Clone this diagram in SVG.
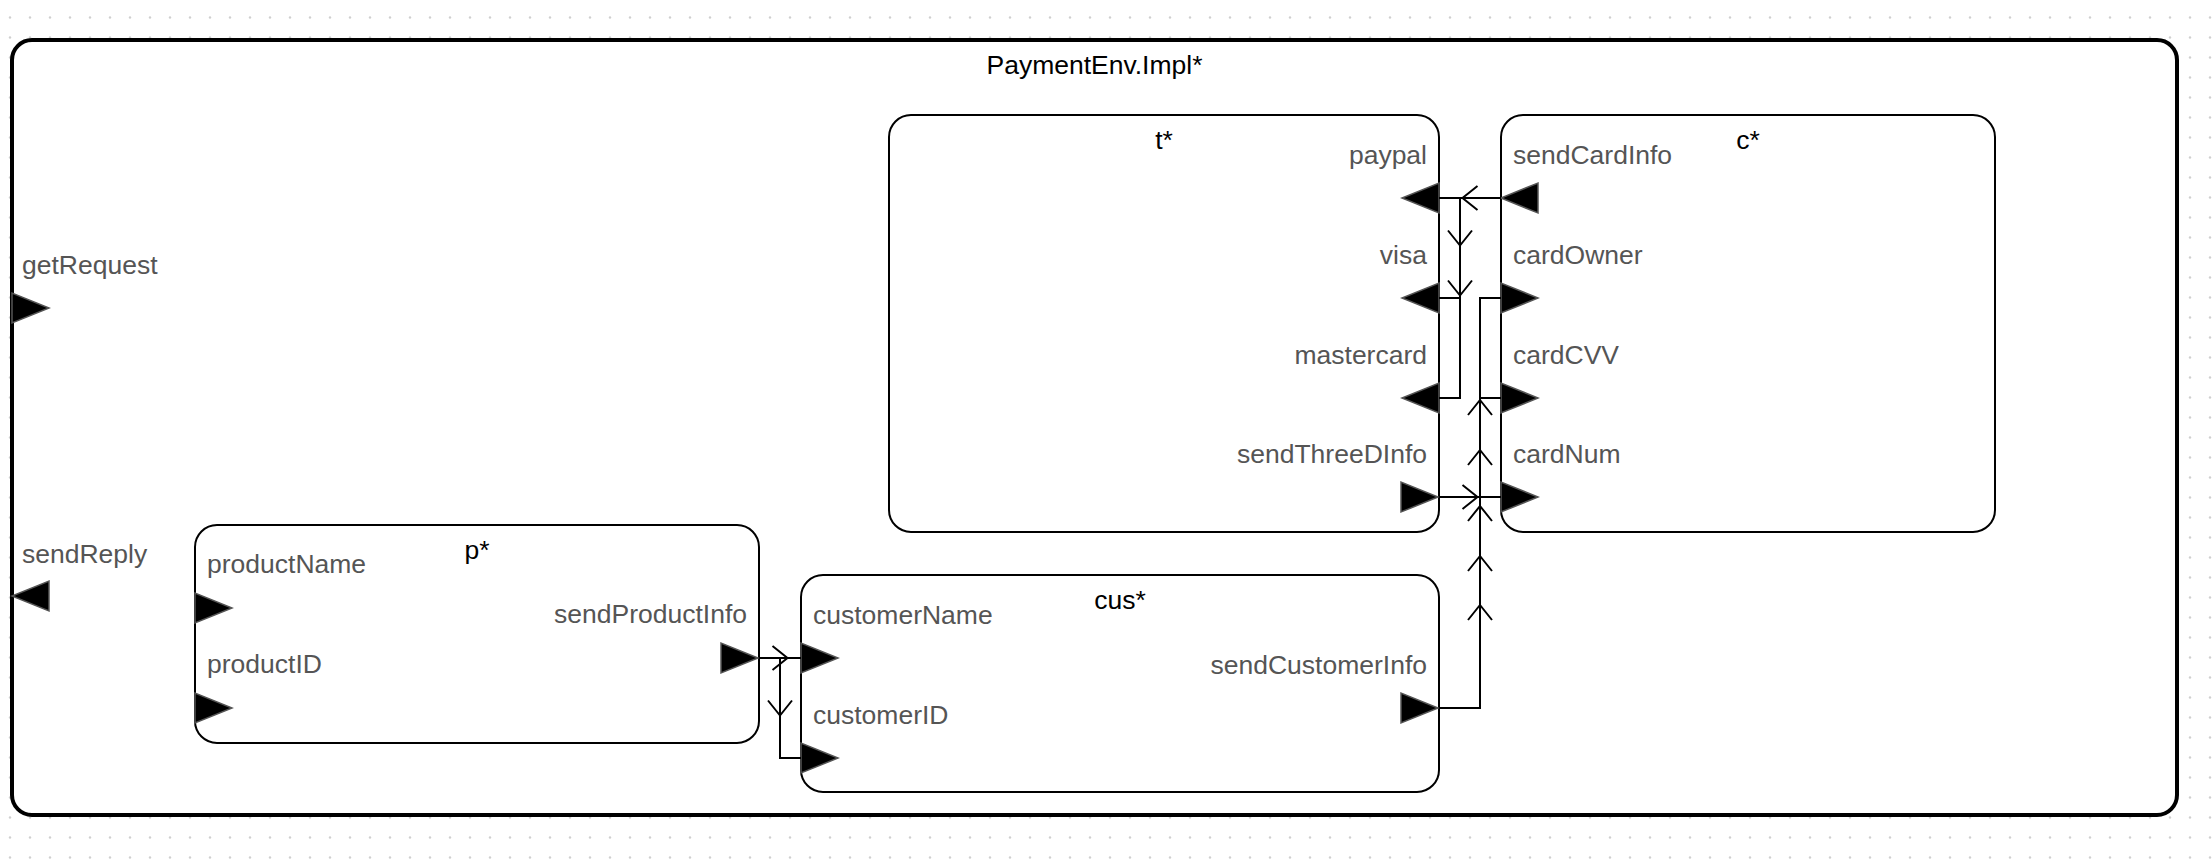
<svg xmlns="http://www.w3.org/2000/svg" width="2212" height="866" viewBox="0 0 2212 866">
<defs>
<pattern id="grid" x="0" y="0" width="20" height="20" patternUnits="userSpaceOnUse">
<circle cx="10" cy="17.5" r="1.2" fill="#cfcfcf"/>
</pattern>
</defs>
<style>
.outer{fill:#fff;stroke:#000;stroke-width:4}
.box{fill:#fff;stroke:#000;stroke-width:2}
.title{font-family:"Liberation Sans",Arial,sans-serif;font-size:26.5px;fill:#000}
.lbl{font-family:"Liberation Sans",Arial,sans-serif;font-size:26.5px;fill:#555}
.end{text-anchor:end}
.mid{text-anchor:middle}
.port{fill:#000;stroke:#555;stroke-width:1.5;stroke-linejoin:miter}
.wire{fill:none;stroke:#000;stroke-width:2}
.chev{fill:none;stroke:#000;stroke-width:2}
</style>
<rect x="0" y="0" width="2212" height="866" fill="#fff"/>
<rect x="0" y="0" width="2212" height="866" fill="url(#grid)"/>

<g id="env">
<rect class="outer" x="12" y="40" width="2165" height="775" rx="20"/>
<text class="title mid" x="1094.5" y="74">PaymentEnv.Impl*</text>
<g id="port-getRequest">
<polygon class="port" points="12,293 12,323 49,308"/>
<text class="lbl" x="22" y="274">getRequest</text>
</g>
<g id="port-sendReply">
<polygon class="port" points="49,581 49,611 12,596"/>
<text class="lbl" x="22" y="563">sendReply</text>
</g>
</g>

<g id="node-t">
<rect class="box" x="889" y="115" width="550" height="417" rx="22"/>
<text class="title mid" x="1164" y="149">t*</text>
<polygon class="port" points="1439,183 1439,213 1402,198"/>
<text class="lbl end" x="1427" y="164">paypal</text>
<polygon class="port" points="1439,283 1439,313 1402,298"/>
<text class="lbl end" x="1427" y="264">visa</text>
<polygon class="port" points="1439,383 1439,413 1402,398"/>
<text class="lbl end" x="1427" y="364">mastercard</text>
<polygon class="port" points="1401,482 1401,512 1438,497"/>
<text class="lbl end" x="1427" y="463">sendThreeDInfo</text>
</g>

<g id="node-c">
<rect class="box" x="1501" y="115" width="494" height="417" rx="22"/>
<text class="title mid" x="1748" y="149">c*</text>
<polygon class="port" points="1538,183 1538,213 1501,198"/>
<text class="lbl" x="1513" y="164">sendCardInfo</text>
<polygon class="port" points="1501,283 1501,313 1538,298"/>
<text class="lbl" x="1513" y="264">cardOwner</text>
<polygon class="port" points="1501,383 1501,413 1538,398"/>
<text class="lbl" x="1513" y="364">cardCVV</text>
<polygon class="port" points="1501,482 1501,512 1538,497"/>
<text class="lbl" x="1513" y="463">cardNum</text>
</g>

<g id="node-p">
<rect class="box" x="195" y="525" width="564" height="218" rx="22"/>
<text class="title mid" x="477" y="559">p*</text>
<polygon class="port" points="195,593 195,623 232,608"/>
<text class="lbl" x="207" y="573">productName</text>
<polygon class="port" points="195,693 195,723 232,708"/>
<text class="lbl" x="207" y="673">productID</text>
<polygon class="port" points="721,643 721,673 758,658"/>
<text class="lbl end" x="747" y="623">sendProductInfo</text>
</g>

<g id="node-cus">
<rect class="box" x="801" y="575" width="638" height="217" rx="22"/>
<text class="title mid" x="1120" y="609">cus*</text>
<polygon class="port" points="801,643 801,673 838,658"/>
<text class="lbl" x="813" y="624">customerName</text>
<polygon class="port" points="801,743 801,773 838,758"/>
<text class="lbl" x="813" y="724">customerID</text>
<polygon class="port" points="1401,693 1401,723 1438,708"/>
<text class="lbl end" x="1427" y="674">sendCustomerInfo</text>
</g>

<g id="connectors">
<path class="wire" d="M759,658 H801"/>
<path class="chev" d="M772.5,646 L787.5,658 L772.5,670"/>
<path class="wire" d="M759,658 H780 V758 H801"/>
<path class="chev" d="M768,700.5 L780,715.5 L792,700.5"/>

<path class="wire" d="M1501,198 H1439"/>
<path class="chev" d="M1477.5,186 L1462.5,198 L1477.5,210"/>
<path class="wire" d="M1501,198 H1460 V298 H1439"/>
<path class="chev" d="M1448,230.5 L1460,245.5 L1472,230.5"/>
<path class="wire" d="M1501,198 H1460 V398 H1439"/>
<path class="chev" d="M1448,280.5 L1460,295.5 L1472,280.5"/>

<path class="wire" d="M1439,497 H1501"/>
<path class="chev" d="M1462.5,485 L1477.5,497 L1462.5,509"/>
<path class="wire" d="M1439,497 H1480 V398 H1501"/>
<path class="chev" d="M1468,465 L1480,450 L1492,465"/>
<path class="wire" d="M1439,497 H1480 V298 H1501"/>
<path class="chev" d="M1468,415 L1480,400 L1492,415"/>

<path class="wire" d="M1439,708 H1480 V497 H1501"/>
<path class="chev" d="M1468,620 L1480,605 L1492,620"/>
<path class="wire" d="M1439,708 H1480 V398 H1501"/>
<path class="chev" d="M1468,571 L1480,556 L1492,571"/>
<path class="wire" d="M1439,708 H1480 V298 H1501"/>
<path class="chev" d="M1468,521 L1480,506 L1492,521"/>
</g>
</svg>
